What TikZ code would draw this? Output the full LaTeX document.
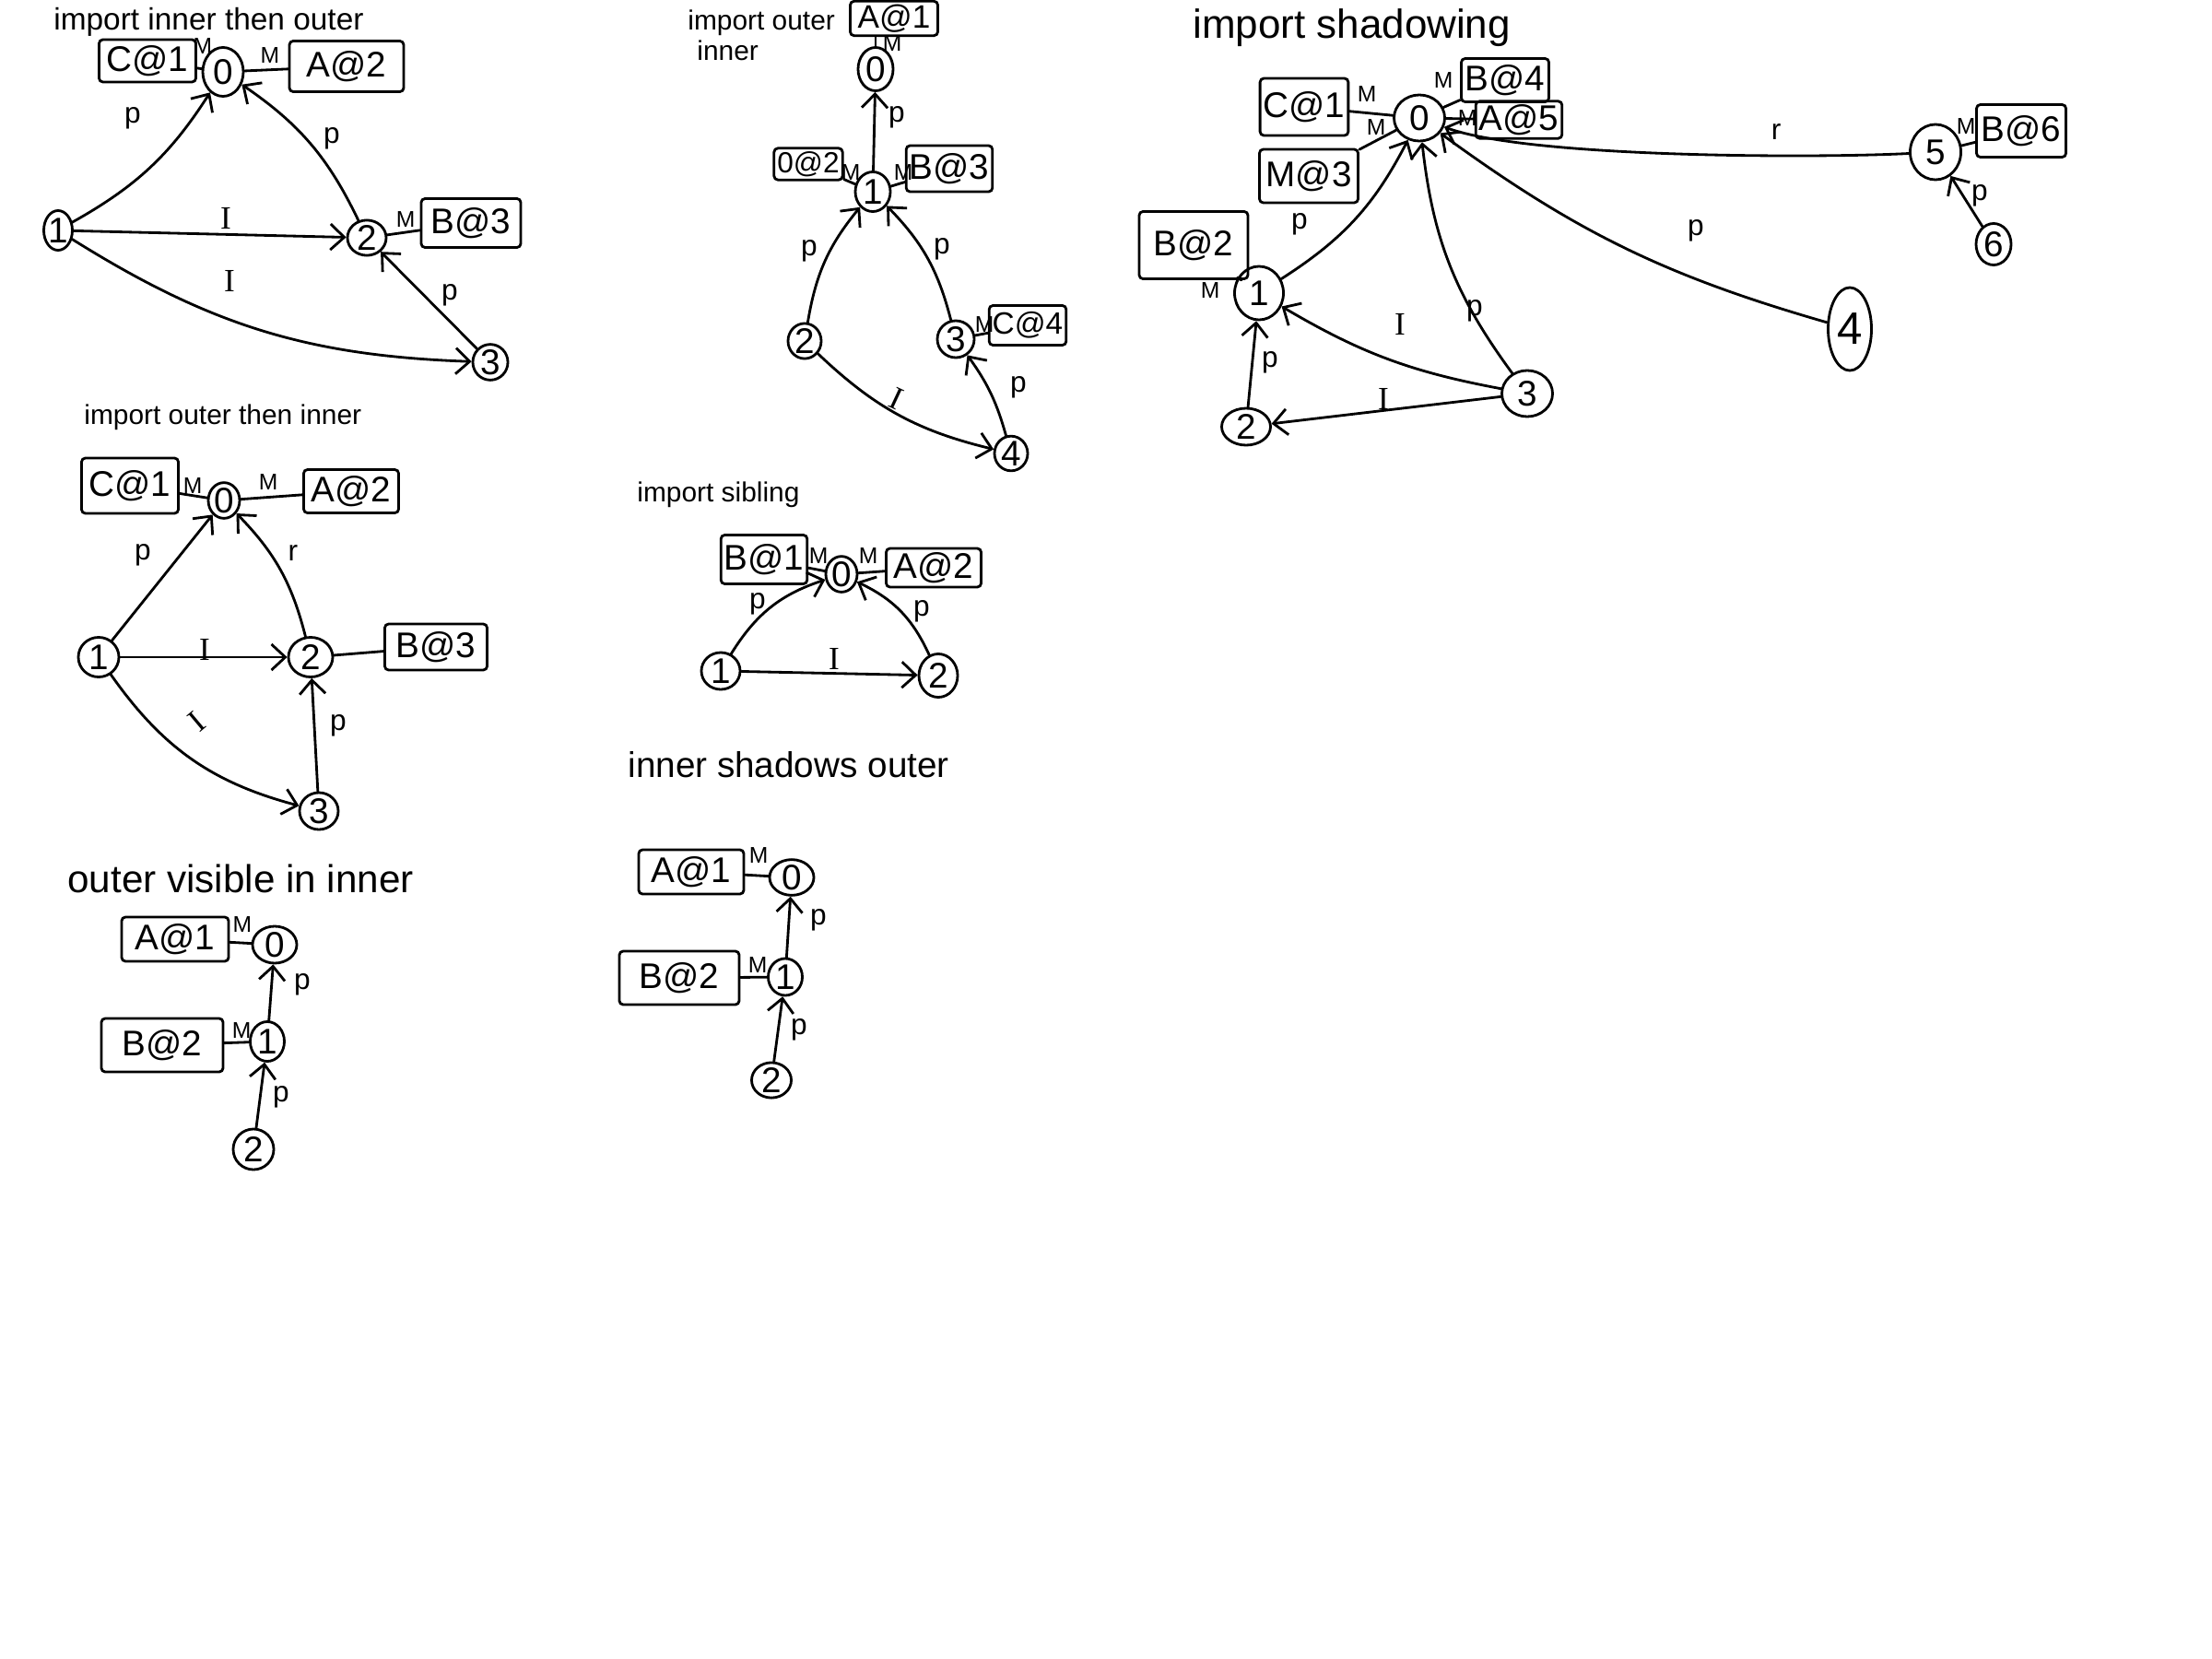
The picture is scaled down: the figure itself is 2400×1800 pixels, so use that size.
\documentclass[tikz,border=0pt]{standalone}
\usepackage{fontspec}
\setmainfont{Liberation Sans}
\newfontfamily\ifontfam{Liberation Serif}
\usetikzlibrary{shapes.geometric,arrows.meta}
\tikzset{
  nd/.style={draw, ellipse, inner sep=0pt, font=\fontsize{11}{11}\selectfont},
  bx/.style={draw, rectangle, inner sep=1pt, rounded corners=1.2pt, font=\fontsize{11}{11}\selectfont},
  ml/.style={inner sep=0pt, font=\fontsize{7}{7}\selectfont},
  el/.style={inner sep=0pt, font=\fontsize{9}{9}\selectfont},
  il/.style={inner sep=0pt, font=\fontsize{10}{10}\ifontfam},
  ttl/.style={inner sep=0pt, anchor=west, align=left},
  arr/.style={-{Straight Barb[length=1.5mm,width=2.8mm]}},
}
\begin{document}
\begin{tikzpicture}[x=0.01cm, y=0.01cm, line width=0.8pt, line cap=round]
\fill[white] (0,0) rectangle (2400,-1800);
\useasboundingbox (0,0) rectangle (2400,-1800);

% ---------- diagram 1: import inner then outer ----------
\node[ttl, font=\fontsize{9.5}{11}\selectfont] (t1) at (57,-24) {import inner then outer};
\node[nd, minimum width=4.4mm, minimum height=5.3mm] (a0) at (242,-78) {0};
\node[nd, minimum width=3.1mm, minimum height=4.3mm] (a1) at (63,-250) {1};
\node[nd, minimum width=4.2mm, minimum height=3.7mm] (a2) at (398,-258) {2};
\node[nd, minimum width=3.8mm, minimum height=3.7mm] (a3) at (532,-393) {3};
\node[bx, minimum width=10.5mm, minimum height=4.6mm] (aC) at (160,-66) {C@1};
\node[bx, minimum width=12.4mm, minimum height=5.5mm] (aA) at (376,-72) {A@2};
\node[bx, minimum width=10.8mm, minimum height=5.3mm] (aB) at (511,-242) {B@3};
\node[ml] (am1) at (220,-50) {M};
\node[ml] (am2) at (293,-60) {M};
\node[ml] (am3) at (440,-238) {M};
\draw (aC) -- (a0);
\draw (a0) -- (aA);
\draw (a2) -- (aB);
\draw[arr] (a1) to[bend right=14] (a0);
\draw[arr] (a2) to[bend right=15] (a0);
\draw[arr] (a1) -- (a2);
\draw[arr] (a1) to[bend right=15] (a3);
\draw[arr] (a3) -- (a2);
\node[el] (al1) at (144,-128) {p};
\node[el] (al2) at (360,-150) {p};
\node[il] (al3) at (245,-237) {I};
\node[il] (al4) at (249,-305) {I};
\node[el] (al5) at (488,-320) {p};

% ---------- diagram 2: import outer then inner ----------
\node[ttl, font=\fontsize{8.5}{10}\selectfont] (t2) at (90,-453) {import outer then inner};
\node[nd, minimum width=3.4mm, minimum height=3.7mm] (b0) at (243,-543) {0};
\node[nd, minimum width=4.4mm, minimum height=4.3mm] (b1) at (107,-713) {1};
\node[nd, minimum width=4.8mm, minimum height=4.3mm] (b2) at (337,-713) {2};
\node[nd, minimum width=4.2mm, minimum height=4.0mm] (b3) at (346,-880) {3};
\node[bx, minimum width=10.5mm, minimum height=6.0mm] (bC) at (141,-527) {C@1};
\node[bx, minimum width=10.3mm, minimum height=4.7mm] (bA) at (381,-533) {A@2};
\node[bx, minimum width=11.1mm, minimum height=5.0mm] (bB) at (473,-702) {B@3};
\node[ml] (bm1) at (209,-527) {M};
\node[ml] (bm2) at (291,-523) {M};
\draw (bC) -- (b0);
\draw (b0) -- (bA);
\draw (b2) -- (bB);
\draw[arr] (b1) -- (b0);
\draw[arr] (b2) to[bend right=15] (b0);
\draw[arr] (b1) -- (b2);
\draw[arr] (b1) to[bend right=20] (b3);
\draw[arr] (b3) -- (b2);
\node[el] (bl1) at (155,-602) {p};
\node[el] (bl2) at (318,-600) {r};
\node[il] (bl3) at (222,-705) {I};
\node[il, rotate=40] (bl4) at (214,-783) {I};
\node[el] (bl5) at (367,-787) {p};

% ---------- diagram 3: outer visible in inner ----------
\node[ttl, font=\fontsize{12}{14}\selectfont] (t3) at (72,-953) {outer visible in inner};
\node[nd, minimum width=4.8mm, minimum height=4.0mm] (c0) at (298,-1025) {0};
\node[nd, minimum width=3.7mm, minimum height=4.3mm] (c1) at (290,-1130) {1};
\node[nd, minimum width=4.4mm, minimum height=4.4mm] (c2) at (275,-1247) {2};
\node[bx, minimum width=11.6mm, minimum height=4.8mm] (cA) at (190,-1019) {A@1};
\node[bx, minimum width=13.2mm, minimum height=5.8mm] (cB) at (176,-1134) {B@2};
\node[ml] (cm1) at (263,-1003) {M};
\node[ml] (cm2) at (262,-1118) {M};
\draw (cA) -- (c0);
\draw (cB) -- (c1);
\draw[arr] (c1) -- (c0);
\draw[arr] (c2) -- (c1);
\node[el] (cl1) at (328,-1068) {p};
\node[el] (cl2) at (305,-1190) {p};

% ---------- diagram 4: import outer inner ----------
\node[ttl, anchor=north west, font=\fontsize{8.5}{9.5}\selectfont] (t4) at (745,-9) {import outer\\\hspace*{1mm}inner};
\node[nd, minimum width=3.8mm, minimum height=4.7mm] (d0) at (950,-75) {0};
\node[nd, minimum width=3.8mm, minimum height=4.3mm] (d1) at (947,-208) {1};
\node[nd, minimum width=3.6mm, minimum height=3.6mm] (d2) at (873,-370) {2};
\node[nd, minimum width=4.0mm, minimum height=4.0mm] (d3) at (1037,-368) {3};
\node[nd, minimum width=3.6mm, minimum height=3.4mm] (d4) at (1097,-492) {4};
\node[bx, minimum width=9.5mm, minimum height=3.0mm, font=\fontsize{10}{10}\selectfont] (dA) at (970,-20) {A@1};
\node[bx, minimum width=6.5mm, minimum height=3.1mm, font=\fontsize{9}{9}\selectfont] (dD) at (877,-178) {0@2};
\node[bx, minimum width=7.5mm, minimum height=5.0mm] (dB) at (1030,-183) {B@3};
\node[bx, minimum width=6.5mm, minimum height=4.3mm, font=\fontsize{9.5}{9.5}\selectfont] (dC) at (1115,-353) {C@4};
\node[ml] (dm1) at (968,-47) {M};
\node[ml] (dm2) at (923,-187) {M};
\node[ml] (dm3) at (980,-187) {M};
\node[ml] (dm4) at (1068,-352) {M};
\draw (d0) -- (d0 |- dA.south);
\draw (dD) -- (d1);
\draw (d1) -- (dB);
\draw (d3) -- (dC);
\draw[arr] (d1) -- (d0);
\draw[arr] (d2) to[bend left=15] (d1);
\draw[arr] (d3) to[bend right=15] (d1);
\draw[arr] (d2) to[bend right=15] (d4);
\draw[arr] (d4) to[bend right=10] (d3);
\node[el] (dl1) at (973,-127) {p};
\node[el] (dl2) at (878,-272) {p};
\node[el] (dl3) at (1022,-270) {p};
\node[il, rotate=-25] (dl4) at (973,-433) {I};
\node[el] (dl5) at (1105,-420) {p};

% ---------- diagram 5: import sibling ----------
\node[ttl, font=\fontsize{8.5}{10}\selectfont] (t5) at (690,-537) {import sibling};
\node[nd, minimum width=3.4mm, minimum height=3.4mm] (e0) at (913,-623) {0};
\node[nd, minimum width=4.2mm, minimum height=4.0mm] (e1) at (782,-728) {1};
\node[nd, minimum width=4.2mm, minimum height=4.7mm] (e2) at (1018,-733) {2};
\node[bx, minimum width=8.8mm, minimum height=5.3mm] (eB) at (829,-607) {B@1};
\node[bx, minimum width=10.3mm, minimum height=4.2mm] (eA) at (1013,-616) {A@2};
\node[ml] (em1) at (888,-603) {M};
\node[ml] (em2) at (942,-603) {M};
\draw (eB) -- (e0);
\draw (e0) -- (eA);
\draw[arr] (e1) to[bend left=20] (e0);
\draw[arr] (e2) to[bend right=20] (e0);
\draw[arr] (e1) -- (e2);
\node[el] (el1) at (822,-655) {p};
\node[el] (el2) at (1000,-663) {p};
\node[il] (el3) at (905,-715) {I};

% ---------- diagram 6: inner shadows outer ----------
\node[ttl, font=\fontsize{11}{13}\selectfont] (t6) at (680,-830) {inner shadows outer};
\node[nd, minimum width=4.8mm, minimum height=3.7mm] (f0) at (859,-952) {0};
\node[nd, minimum width=3.7mm, minimum height=4.0mm] (f1) at (852,-1060) {1};
\node[nd, minimum width=4.3mm, minimum height=3.7mm] (f2) at (837,-1172) {2};
\node[bx, minimum width=11.4mm, minimum height=4.8mm] (fA) at (750,-946) {A@1};
\node[bx, minimum width=13.0mm, minimum height=5.8mm] (fB) at (737,-1061) {B@2};
\node[ml] (fm1) at (823,-928) {M};
\node[ml] (fm2) at (822,-1047) {M};
\draw (fA) -- (f0);
\draw (fB) -- (f1);
\draw[arr] (f1) -- (f0);
\draw[arr] (f2) -- (f1);
\node[el] (fl1) at (888,-998) {p};
\node[el] (fl2) at (867,-1117) {p};

% ---------- diagram 7: import shadowing ----------
\node[ttl, font=\fontsize{12.5}{15}\selectfont] (t7) at (1293,-30) {import shadowing};
\node[nd, minimum width=5.5mm, minimum height=5.0mm] (g0) at (1540,-128) {0};
\node[nd, minimum width=5.3mm, minimum height=5.8mm] (g1) at (1366,-318) {1};
\node[nd, minimum width=5.3mm, minimum height=4.0mm] (g2) at (1352,-463) {2};
\node[nd, minimum width=5.5mm, minimum height=5.0mm] (g3) at (1657,-427) {3};
\node[nd, minimum width=4.7mm, minimum height=9.0mm, font=\fontsize{14}{14}\selectfont] (g4) at (2007,-357) {4};
\node[nd, minimum width=5.5mm, minimum height=6.0mm] (g5) at (2100,-165) {5};
\node[nd, minimum width=3.8mm, minimum height=4.5mm] (g6) at (2163,-265) {6};
\node[bx, minimum width=9.1mm, minimum height=6.2mm] (gC) at (1415,-116) {C@1};
\node[bx, minimum width=9.5mm, minimum height=4.7mm] (gB4) at (1633,-87) {B@4};
\node[bx, minimum width=9.3mm, minimum height=3.6mm] (gA) at (1648,-130) {A@5};
\node[bx, minimum width=10.7mm, minimum height=5.8mm] (gM) at (1420,-191) {M@3};
\node[bx, minimum width=11.8mm, minimum height=7.3mm] (gB2) at (1295,-266) {B@2};
\node[bx, minimum width=9.7mm, minimum height=5.7mm] (gB6) at (2193,-142) {B@6};
\node[ml] (gm1) at (1483,-102) {M};
\node[ml] (gm2) at (1566,-87) {M};
\node[ml] (gm3) at (1592,-128) {M};
\node[ml] (gm4) at (1493,-138) {M};
\node[ml] (gm5) at (1313,-315) {M};
\node[ml] (gm6) at (2133,-137) {M};
\draw (gC) -- (g0);
\draw (g0) -- (gB4);
\draw (g0) -- (gA);
\draw (gM) -- (g0);
\draw (gB2) -- (g1);
\draw (g5) -- (gB6);
\draw[arr] (g1) to[bend right=15] (g0);
\draw[arr] (g3) to[bend left=15] (g0);
\draw[arr] (g4) to[bend left=10] (g0);
\draw[arr] (g5) to[out=183, in=-20, looseness=0.5] (g0);
\draw[arr] (g6) -- (g5);
\draw[arr] (g3) to[bend left=10] (g1);
\draw[arr] (g3) -- (g2);
\draw[arr] (g2) -- (g1);
\node[el] (gl1) at (1410,-243) {p};
\node[el] (gl2) at (1600,-337) {p};
\node[el] (gl3) at (1840,-250) {p};
\node[el] (gl4) at (1927,-143) {r};
\node[el] (gl5) at (2148,-212) {p};
\node[il] (gl6) at (1519,-352) {I};
\node[il] (gl7) at (1501,-433) {I};
\node[el] (gl8) at (1378,-393) {p};
\end{tikzpicture}
\end{document}
